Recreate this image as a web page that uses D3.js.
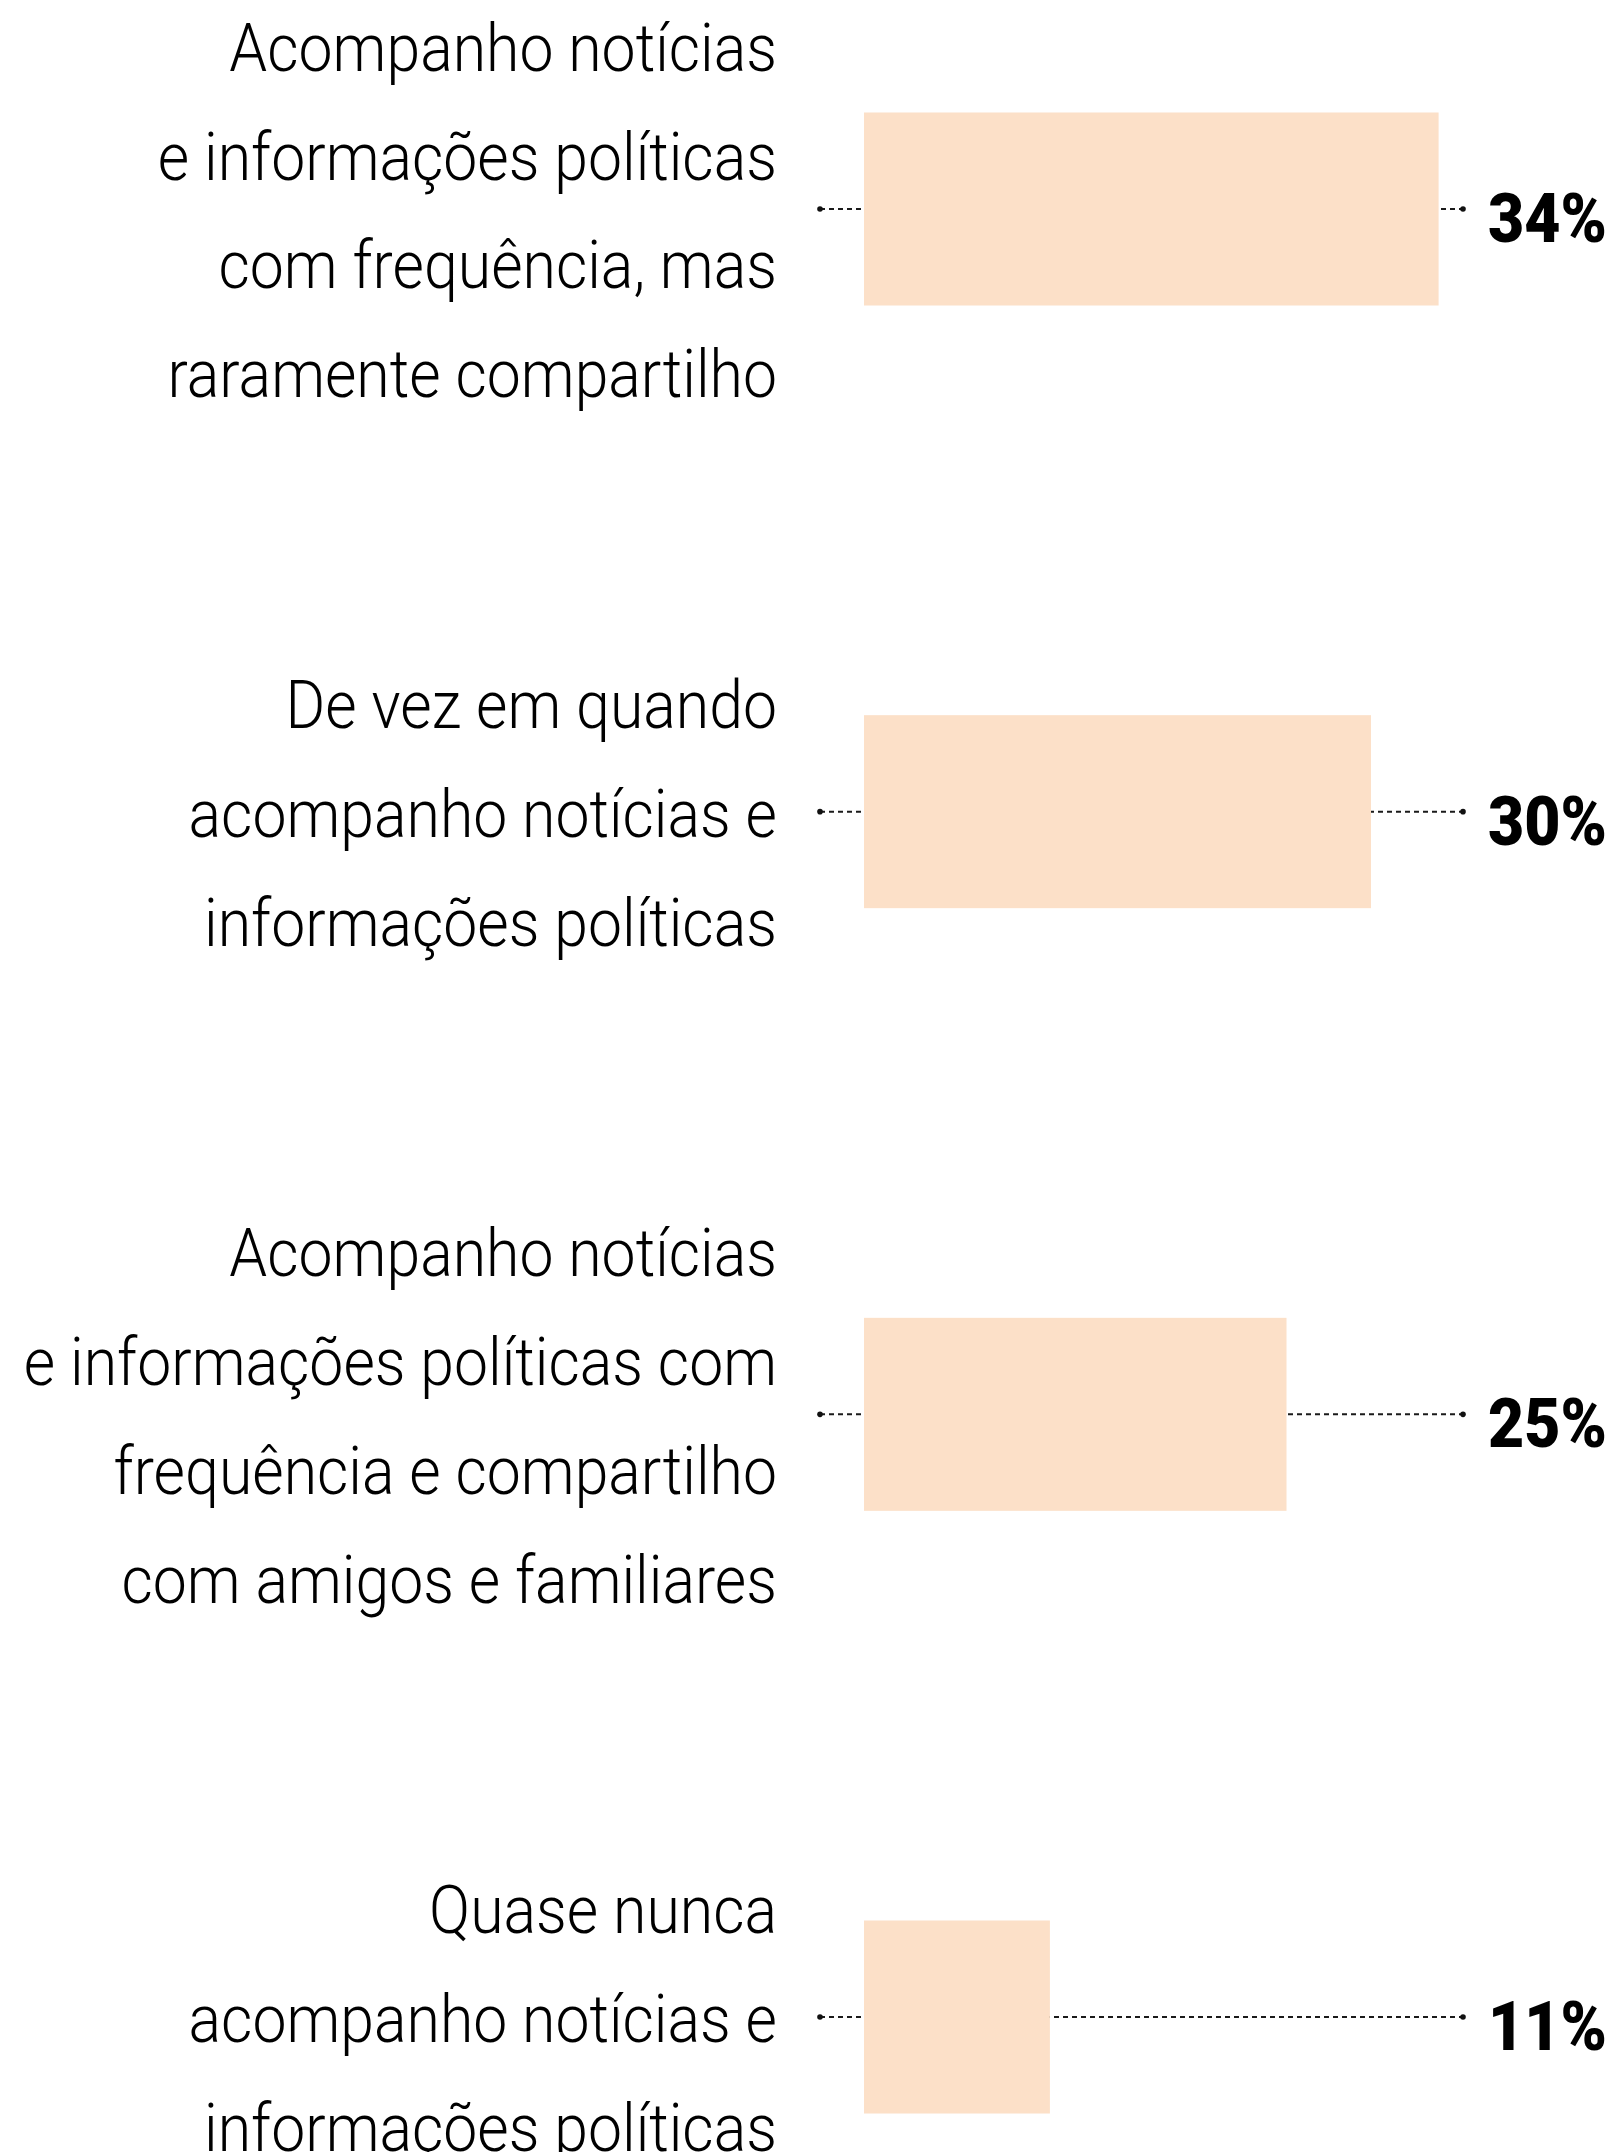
<!DOCTYPE html>
<html>
<head>
    <meta charset="utf-8">
    <script src="https://d3js.org/d3.v7.min.js"></script>
    <style>
        body {
            margin: 0;
            background: #ffffff;
        }

        .label {
            font-family: Roboto, "Liberation Sans", sans-serif;
            font-weight: 300;
            font-size: 66px;
            fill: #000;
        }

        .pct {
            font-family: Roboto, "Liberation Sans", sans-serif;
            font-weight: 900;
            font-size: 68px;
            fill: #000;
        }
    </style>
</head>
<body>
    <script>
        // answers (one entry per row), text already broken in lines as in the original
        var categories = [
            ["Acompanho notícias", "e informações políticas", "com frequência, mas", "raramente compartilho"],
            ["De vez em quando", "acompanho notícias e", "informações políticas"],
            ["Acompanho notícias", "e informações políticas com", "frequência e compartilho", "com amigos e familiares"],
            ["Quase nunca", "acompanho notícias e", "informações políticas"]
        ];
        var values = [34, 30, 25, 11];
        var valueLabels = ["34%", "30%", "25%", "11%"];

        var width = 1614,
            height = 2152;

        var svg = d3.select("body").append("svg")
            .attr("width", width)
            .attr("height", height);

        var rows = d3.range(values.length);

        var y = d3.scalePoint()
            .domain(rows)
            .range([209, 2017]);

        var x = d3.scaleLinear()
            .domain([0, 100])
            .range([864, 864 + 1690]);

        var barHeight = 193,
            lineH = 109,
            labelRight = 777,
            lineStart = 820,
            lineEnd = 1463;

        var row = svg.append("g")
            .selectAll(".row")
            .data(rows)
            .enter().append("g")
            .attr("class", "row")
            .attr("transform", function(i) {
                return "translate(0," + y(i) + ")";
            });

        // dotted guide, behind the bar
        row.append("line")
            .attr("x1", lineStart)
            .attr("x2", lineEnd)
            .attr("y1", 0)
            .attr("y2", 0)
            .attr("stroke", "#1a1a1a")
            .attr("stroke-width", 2)
            .attr("stroke-dasharray", "5,4");

        row.append("circle")
            .attr("cx", lineStart)
            .attr("r", 2.8)
            .attr("fill", "#111");

        row.append("circle")
            .attr("cx", lineEnd)
            .attr("r", 2.8)
            .attr("fill", "#111");

        row.append("rect")
            .attr("x", x(0))
            .attr("y", -barHeight / 2)
            .attr("width", function(i) {
                return x(values[i]) - x(0);
            })
            .attr("height", barHeight)
            .attr("fill", "#fce0c8");

        row.append("text")
            .attr("class", "pct")
            .attr("transform", "translate(1607,33) scale(0.92,1)")
            .attr("text-anchor", "end")
            .text(function(i) {
                return valueLabels[i];
            });

        // category labels, right aligned, narrowed a bit
        var lab = row.append("g")
            .attr("transform", "translate(" + labelRight + ",0) scale(0.92,1)");

        lab.each(function(i) {
            var lines = categories[i];
            var n = lines.length;
            d3.select(this).selectAll("text")
                .data(lines)
                .enter().append("text")
                .attr("class", "label")
                .attr("x", 0)
                .attr("y", function(d, k) {
                    return (k - (n - 1) / 2) * lineH + 25;
                })
                .attr("text-anchor", "end")
                .text(function(d) {
                    return d;
                });
        });
    </script>
</body>
</html>
